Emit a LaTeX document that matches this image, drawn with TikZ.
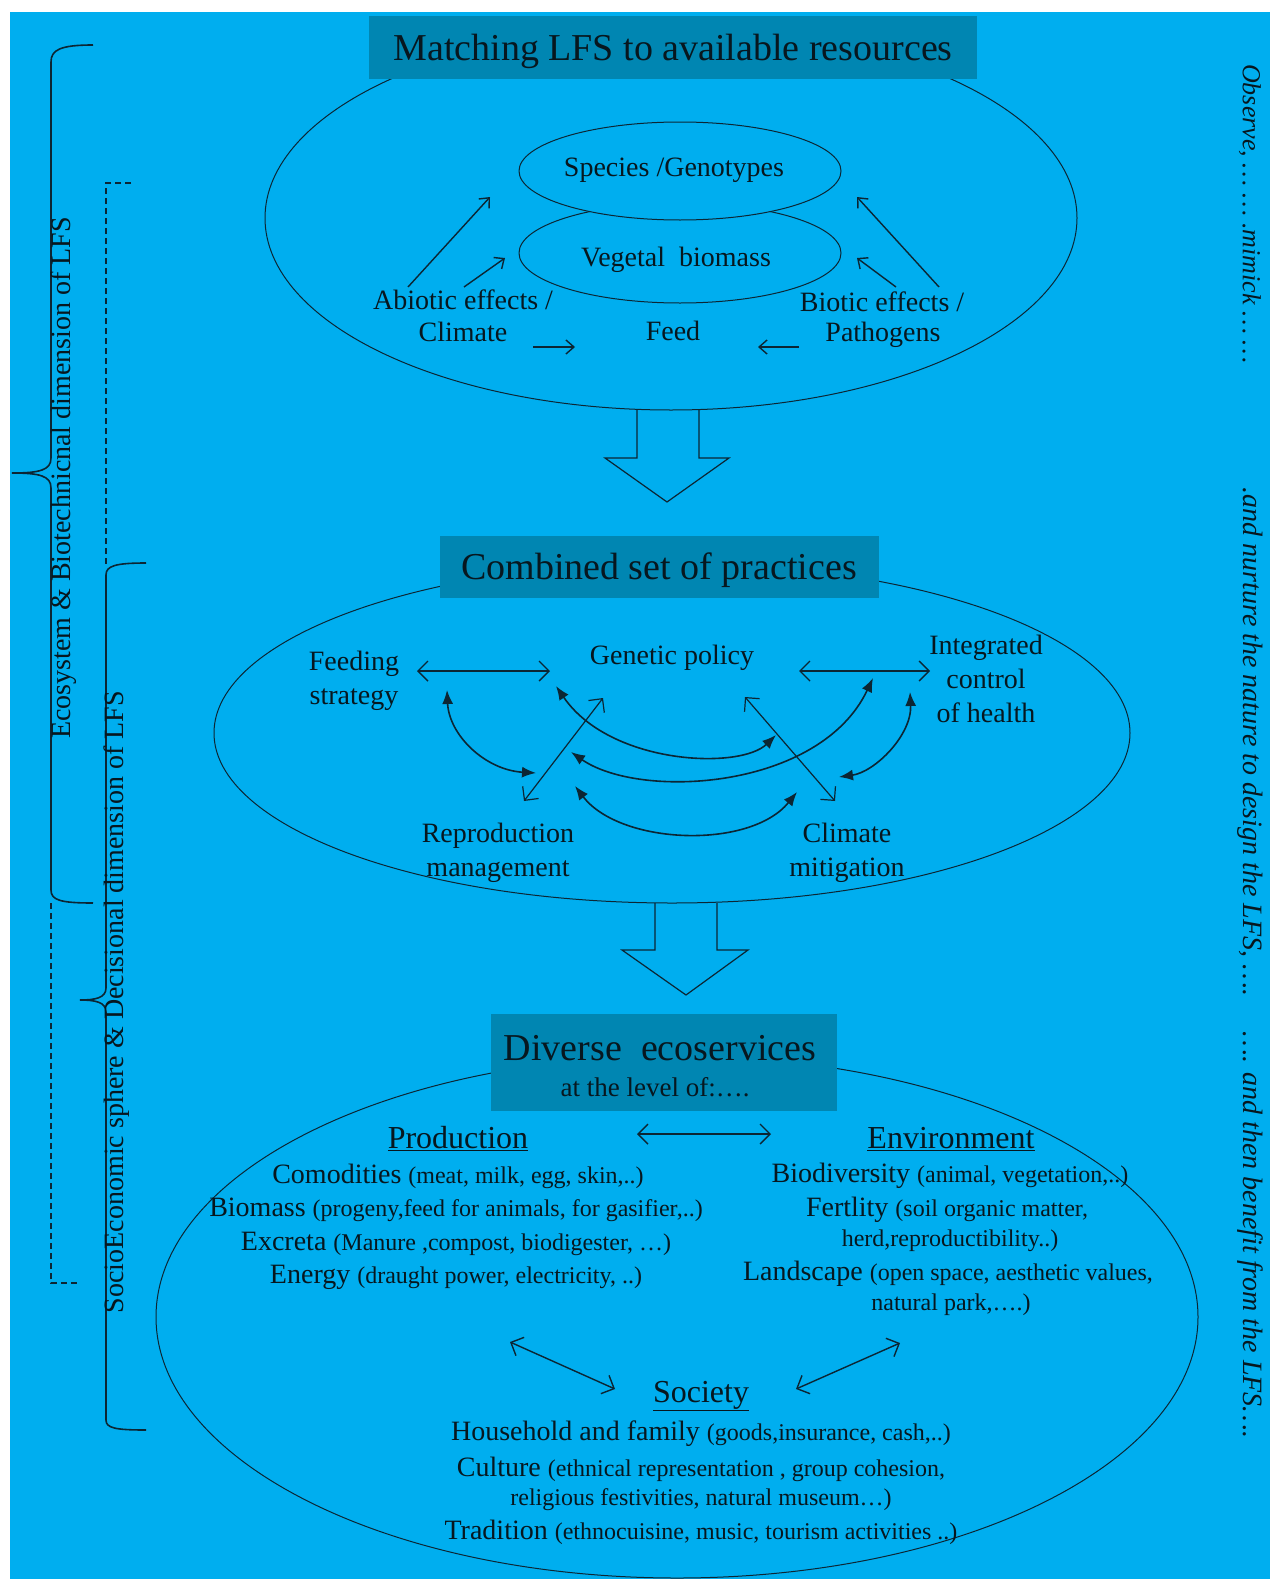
\documentclass[tikz,border=0pt]{standalone}
\usepackage{xcolor}
\usepackage{fontspec}
\setmainfont{Liberation Serif}
\usepackage{tikz}
\usetikzlibrary{arrows.meta}

\definecolor{skyback}{RGB}{0,174,239}
\definecolor{titlebox}{RGB}{0,134,178}
\definecolor{inkdark}{RGB}{12,38,52}
\newcommand{\pnote}[1]{{\fontsize{24}{28}\selectfont #1}}

\begin{document}
\begin{tikzpicture}[x=1pt,y=-1pt,
  every node/.style={inner sep=0pt, text=inkdark!60!black},
  txt/.style={font=\fontsize{28}{34}\selectfont, align=center},
  head/.style={font=\fontsize{38}{44}\selectfont},
  sub/.style={font=\fontsize{32}{38}\selectfont},
  side/.style={font=\fontsize{28}{32}\selectfont, rotate=90},
  muse/.style={font=\itshape\fontsize{28}{32}\selectfont, rotate=-90},
  titlebg/.style={fill=titlebox},
  ring/.style={draw=inkdark, line width=1pt},
  tip/.style={draw=inkdark, line width=1.4pt, -{Straight Barb[length=8pt,width=14pt]}},
  both/.style={draw=inkdark, line width=1.4pt, {Straight Barb[length=10pt,width=20pt]}-{Straight Barb[length=10pt,width=20pt]}},
  swing/.style={draw=inkdark, line width=1.6pt, {Latex[length=14pt,width=11pt]}-{Latex[length=14pt,width=11pt]}},
  brace/.style={draw=inkdark, line width=1.6pt},
  bigarrow/.style={draw=inkdark, line width=1.2pt}]
\useasboundingbox (0,0) rectangle (1269,1579);
\fill[white] (-5,-5) rectangle (1290,1600);
\fill[skyback] (10,12) rectangle (1290,1600);

\draw[ring] (671,218) ellipse [x radius=406pt, y radius=192pt];
\draw[ring] (672,733) ellipse [x radius=458pt, y radius=170pt];
\draw[ring] (677,1317) ellipse [x radius=521pt, y radius=261pt];

\node[titlebg, minimum width=608, minimum height=63] (matchbox) at (673,47.5) {};
\node[head] (matching) at (673,51) {Matching LFS to available resources};
\node[titlebg, minimum width=439, minimum height=62] (combox) at (659.5,567) {};
\node[head] (combined) at (659,570) {Combined set of practices};
\node[titlebg, minimum width=346, minimum height=97] (ecobox) at (664,1062.5) {};
\node[head] (diverse) at (660,1048) {Diverse\ \ ecoservices};
\node[font=\fontsize{27}{30}\selectfont] (level) at (655,1087) {at the level of:….};

\draw[ring] (680,253) ellipse [x radius=161pt, y radius=50pt];
\draw[ring, fill=skyback] (680,171) ellipse [x radius=161pt, y radius=49pt];
\node[txt] (species) at (674,170) {Species /Genotypes};
\node[txt] (vegetal) at (676,260) {Vegetal\ \ biomass};
\node[txt] (abiotic) at (463,300) {Abiotic effects /};
\node[txt] (climate) at (463,332) {Climate};
\node[txt] (feed) at (673,331) {Feed};
\node[txt] (biotic) at (882,302) {Biotic effects /};
\node[txt] (pathogens) at (883,335) {Pathogens};
\coordinate (al0) at (408,287); \coordinate (al1) at (490,197);
\coordinate (as0) at (464,287); \coordinate (as1) at (505,258);
\coordinate (ah0) at (533,347); \coordinate (ah1) at (575,347);
\coordinate (bh0) at (799,347); \coordinate (bh1) at (758,347);
\coordinate (bs0) at (896,287); \coordinate (bs1) at (857,258);
\coordinate (bl0) at (939,287); \coordinate (bl1) at (857,197);
\draw[tip] (al0) -- (al1);
\draw[tip] (as0) -- (as1);
\draw[tip] (ah0) -- (ah1);
\draw[tip] (bh0) -- (bh1);
\draw[tip] (bs0) -- (bs1);
\draw[tip] (bl0) -- (bl1);

\draw[bigarrow] (637,409) -- (637,458) -- (605,458) -- (667,502) -- (729,458) -- (699,458) -- (699,409);

\node[txt] (feeding) at (354,681) {Feeding\\strategy};
\node[txt] (genetic) at (672,658) {Genetic policy};
\node[txt] (integrated) at (986,679) {Integrated\\control\\of health};
\node[txt] (reproduction) at (498,853) {Reproduction\\management};
\node[txt] (mitigation) at (847,853) {Climate\\mitigation};
\coordinate (fg0) at (417,671); \coordinate (fg1) at (550,671);
\coordinate (gi0) at (799,671); \coordinate (gi1) at (930,671);
\coordinate (fr0) at (447,690); \coordinate (fr1) at (536,773);
\coordinate (gc0) at (556,686); \coordinate (gc1) at (776,735);
\coordinate (ir0) at (873,678); \coordinate (ir1) at (571,752);
\coordinate (rc0) at (575,786); \coordinate (rc1) at (797,792);
\coordinate (ic0) at (910,692); \coordinate (ic1) at (839,777);
\coordinate (rg0) at (524,801); \coordinate (rg1) at (603,698);
\coordinate (cg0) at (835,801); \coordinate (cg1) at (745,697);
\draw[both] (fg0) -- (fg1);
\draw[both] (gi0) -- (gi1);
\draw[swing] (fr0) .. controls (449,735) and (485,770) .. (fr1);
\draw[swing] (gc0) .. controls (610,765) and (740,770) .. (gc1);
\draw[swing] (ir0) .. controls (820,790) and (640,800) .. (ir1);
\draw[swing] (rc0) .. controls (620,845) and (750,850) .. (rc1);
\draw[swing] (ic0) .. controls (912,735) and (875,772) .. (ic1);
\draw[both, line width=1.2pt] (rg0) -- (rg1);
\draw[both, line width=1.2pt] (cg0) -- (cg1);

\draw[bigarrow] (655,903) -- (655,950) -- (622,950) -- (686,995) -- (748,950) -- (717,950) -- (717,903);

\node[sub] (production) at (458,1139) {\underline{Production}};
\node[sub] (environment) at (951,1139) {\underline{Environment}};
\node[sub] (society) at (701,1396) {\underline{Society}};
\node[txt] (comodities) at (458,1176) {Comodities \pnote{(meat, milk, egg, skin,..)}};
\node[txt] (biomass) at (456,1210) {Biomass \pnote{(progeny,feed for animals, for gasifier,..)}};
\node[txt] (excreta) at (456,1244) {Excreta \pnote{(Manure ,compost, biodigester, …)}};
\node[txt] (energy) at (456,1277) {Energy \pnote{(draught power, electricity, ..)}};
\node[txt] (biodiversity) at (950,1176) {Biodiversity \pnote{(animal, vegetation,..)}};
\node[txt] (fertlity) at (947,1210) {Fertlity \pnote{(soil organic matter,}};
\node[txt] (herd) at (950,1241) {\pnote{herd,reproductibility..)}};
\node[txt] (landscape) at (948,1274) {Landscape \pnote{(open space, aesthetic values,}};
\node[txt] (park) at (951,1305) {\pnote{natural park,….)}};
\node[txt] (household) at (701,1434) {Household and family \pnote{(goods,insurance, cash,..)}};
\node[txt] (culture) at (701,1469) {Culture \pnote{(ethnical representation , group cohesion,}};
\node[txt] (religious) at (701,1500) {\pnote{religious festivities, natural museum…)}};
\node[txt] (tradition) at (701,1532) {Tradition \pnote{(ethnocuisine, music, tourism activities ..)}};
\coordinate (pe0) at (637,1134); \coordinate (pe1) at (771,1134);
\coordinate (ps0) at (510,1342); \coordinate (ps1) at (615,1389);
\coordinate (es0) at (900,1343); \coordinate (es1) at (796,1389);
\draw[both] (pe0) -- (pe1);
\draw[both] (ps0) -- (ps1);
\draw[both] (es0) -- (es1);

\draw[brace] (93,45) .. controls (60,45) and (51,50) .. (51,62) -- (51,458) .. controls (51,470) and (40,473) .. (12,473) .. controls (40,473) and (51,476) .. (51,488) -- (51,890) .. controls (51,900) and (60,903) .. (93,903);
\draw[brace, dash pattern=on 6pt off 4pt] (51,903) -- (51,1283) -- (79,1283);
\draw[brace, dash pattern=on 6pt off 4pt] (131,183) -- (106,183) -- (106,566);
\draw[brace] (146,563) .. controls (115,563) and (106,566) .. (106,575) -- (106,988) .. controls (106,998) and (95,1000) .. (80,1000) .. controls (95,1000) and (106,1002) .. (106,1012) -- (106,1420) .. controls (106,1428) and (115,1430) .. (146,1430);
\node[side] (ecosystem) at (64,478) {Ecosystem \& Biotechnicnal dimension of LFS};
\node[side] (socio) at (117,1002) {SocioEconomic sphere \& Decisional dimension of LFS};

\node[muse, font=\itshape\fontsize{26}{30}\selectfont] (observe) at (1250,214) {Observe, … … .mimick … …};
\node[muse] (nurture) at (1250,742) {.and nurture the nature to design the LFS, ….};
\node[muse] (benefit) at (1250,1235) {…. and then benefit from the LFS….};
\end{tikzpicture}
\end{document}
